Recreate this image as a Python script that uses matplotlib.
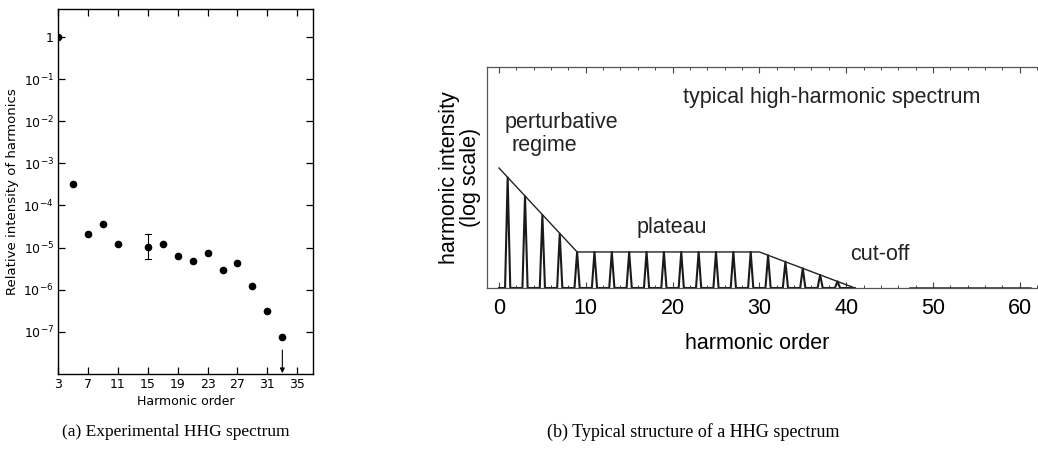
import matplotlib.pyplot as plt
import numpy as np
from matplotlib.ticker import FixedLocator, MultipleLocator, NullLocator

# (a) experimental spectrum
orders_a = [3, 5, 7, 9, 11, 15, 17, 19, 21, 23, 25, 27, 29, 31, 33]
intens_a = [1.0, 3.3e-4, 2.1e-5, 3.7e-5, 1.25e-5, 1.05e-5, 1.25e-5, 6.3e-6,
            4.7e-6, 7.6e-6, 3.0e-6, 4.2e-6, 1.26e-6, 3.2e-7, 7.6e-8]
err_order = 15
err_low, err_high = 5.5e-6, 2.1e-5
limit_order = 33
limit_top, limit_bottom = 3.7e-8, 1.05e-8
xticks_a = [3, 7, 11, 15, 19, 23, 27, 31, 35]
yticks_a = [1, 1e-1, 1e-2, 1e-3, 1e-4, 1e-5, 1e-6, 1e-7]
ylabels_a = ['1', '$10^{-1}$', '$10^{-2}$', '$10^{-3}$', '$10^{-4}$',
             '$10^{-5}$', '$10^{-6}$', '$10^{-7}$']

# (b) schematic spectrum
peak_orders = [1, 3, 5, 7, 9, 11, 13, 15, 17, 19, 21, 23, 25, 27, 29,
               31, 33, 35, 37, 39]
peak_heights = [0.50, 0.415, 0.33, 0.245, 0.163, 0.163, 0.163, 0.163, 0.163,
                0.163, 0.163, 0.163, 0.163, 0.163, 0.163,
                0.148, 0.119, 0.089, 0.059, 0.030]
env_orders = [0, 9, 30, 41]
env_heights = [0.543, 0.163, 0.163, 0.0]
tail_orders = [47.3, 61.2]

W, H = 1038, 457
fig = plt.figure(figsize=(W / 100, H / 100), dpi=100)

# ---------- left panel ----------
ax = fig.add_axes([58 / W, 1 - 374 / H, (313 - 58) / W, (374 - 9) / H])
ax.plot(orders_a, intens_a, 'o', color='black', ms=4.5)
ax.plot([err_order, err_order], [err_low, err_high], color='black', lw=0.8)
ax.plot([err_order - 0.4, err_order + 0.4], [err_high, err_high], color='black', lw=0.8)
ax.plot([err_order - 0.4, err_order + 0.4], [err_low, err_low], color='black', lw=0.8)
ax.annotate('', xy=(limit_order, limit_bottom), xytext=(limit_order, limit_top),
            arrowprops=dict(arrowstyle='-|>', color='black', lw=0.8,
                            mutation_scale=7, shrinkA=0, shrinkB=0))
ax.set_yscale('log')
ax.set_xlim(3, 37.1)
ax.set_ylim(1e-8, 4.6)
ax.xaxis.set_major_locator(FixedLocator(xticks_a))
ax.xaxis.set_minor_locator(NullLocator())
ax.set_xticklabels([str(t) for t in xticks_a])
ax.yaxis.set_major_locator(FixedLocator(yticks_a))
ax.yaxis.set_minor_locator(NullLocator())
ax.set_yticklabels(ylabels_a)
ax.tick_params(direction='in', length=5, width=0.9, top=True, right=True,
               labelsize=9, pad=3)
for s in ax.spines.values():
    s.set_linewidth(1.0)
ax.set_xlabel('Harmonic order', fontsize=9, labelpad=3)
ax.set_ylabel('Relative intensity of harmonics', fontsize=9.5, labelpad=3)

# ---------- right panel ----------
font_b = 'Liberation Sans'
ax2 = fig.add_axes([487 / W, 1 - 288 / H, (1038 - 487) / W, (288 - 67) / H])
hw = 0.3
xs, ys = [], []
for o, h in zip(peak_orders, peak_heights):
    xs += [o - hw, o, o + hw]
    ys += [0, h, 0]
xs = [env_orders[0]] + xs + [env_orders[-1]]
ys = [0] + ys + [0]
ax2.plot(xs, ys, color='#1a1a1a', lw=1.5)
ax2.plot(env_orders, env_heights, color='#222222', lw=1.0)
ax2.plot(tail_orders, [0, 0], color='#222222', lw=1.8)
ax2.set_xlim(-1.38, 62.1)
ax2.set_ylim(0, 1)
ax2.xaxis.set_major_locator(MultipleLocator(10))
ax2.xaxis.set_minor_locator(MultipleLocator(2))
ax2.set_yticks([])
ax2.tick_params(axis='x', which='major', direction='in', length=4, width=0.8,
                top=True, labelsize=15.5, pad=7, color='#444444')
ax2.tick_params(axis='x', which='minor', direction='in', length=2.5, width=0.7,
                top=True, color='#444444')
for lab in ax2.get_xticklabels():
    lab.set_fontfamily(font_b)
ax2.spines['right'].set_visible(False)
for s in ['left', 'top', 'bottom']:
    ax2.spines[s].set_color('#555555')
    ax2.spines[s].set_linewidth(0.9)
ax2.set_xlabel('harmonic order', fontsize=15.5, family=font_b, labelpad=0)
ax2.xaxis.set_label_coords((757 - 487) / (1038 - 487), -(333 - 288) / (288 - 67))
ax2.set_ylabel('harmonic intensity\n(log scale)', fontsize=15.5, family=font_b,
               linespacing=1.0, labelpad=4)

ax2.text(21.2, 0.86, 'typical high-harmonic spectrum', fontsize=15.5,
         family=font_b, va='center', color='#222222')
ax2.text(0.7, 0.75, 'perturbative', fontsize=15.5, family=font_b,
         va='center', color='#222222')
ax2.text(1.4, 0.645, 'regime', fontsize=15.5, family=font_b,
         va='center', color='#222222')
ax2.text(15.9, 0.276, 'plateau', fontsize=15.5, family=font_b,
         va='center', color='#222222')
ax2.text(40.4, 0.15, 'cut-off', fontsize=15.5, family=font_b,
         va='center', color='#222222')

# ---------- captions ----------
fig.text(62 / W, 1 - 432 / H, '(a) Experimental HHG spectrum', fontsize=12.5,
         family='Liberation Serif', va='center')
fig.text(547 / W, 1 - 432 / H, '(b) Typical structure of a HHG spectrum',
         fontsize=13, family='Liberation Serif', va='center')

fig.savefig('out.png', dpi=100)
